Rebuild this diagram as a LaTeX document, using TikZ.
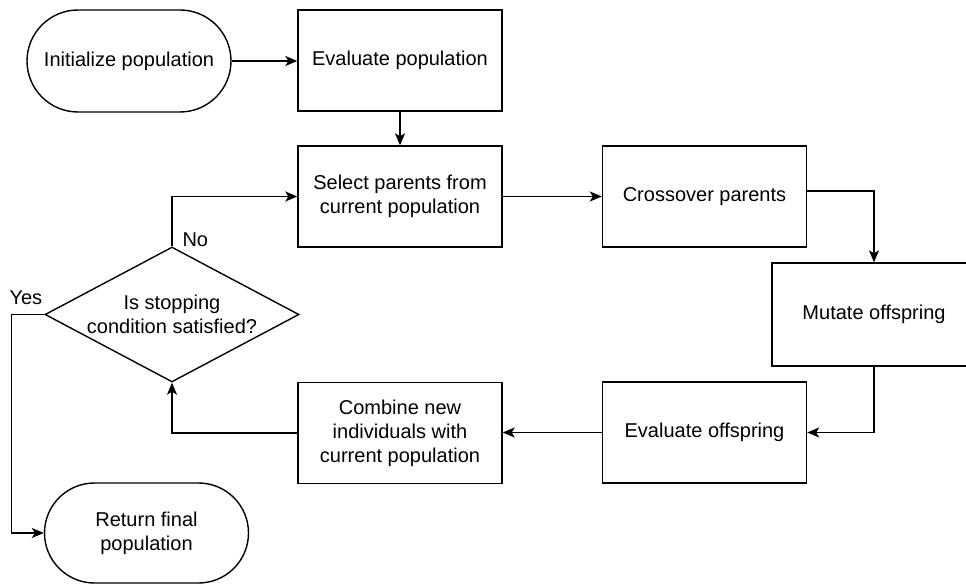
\documentclass[tikz,border=0pt]{standalone}
\usepackage{fontspec}
\setmainfont{Liberation Sans}
\usetikzlibrary{shapes.geometric,shapes.misc,arrows.meta}

\begin{document}
\begin{tikzpicture}[x = 1pt, y = -1pt,
	every node/.style = {font = \fontsize{20}{24}\selectfont},
	box/.style = {draw, line width = 1.4pt, rectangle, minimum width = 204pt, minimum height = 101pt, align = center, inner sep = 0pt},
	term/.style = {draw, line width = 1.4pt, rounded rectangle, minimum width = 204pt, minimum height = 102pt, align = center, inner sep = 0pt},
	decide/.style = {draw, line width = 1.4pt, diamond, aspect = 1.88, minimum width = 254pt, minimum height = 135pt, align = center, inner sep = 0pt},
	flow/.style = {line width = 1.4pt, -{Stealth[length = 12pt, width = 10pt, inset = 3pt]}}]
						\useasboundingbox (0,0) rectangle (966,585);
						\node[term] (init) at (129,61) {Initialize population};
						\node[box] (evalpop) at (400,60.5) {Evaluate population};
						\node[box] (select) at (400,196.5) {Select parents from\\current population};
						\node[box] (cross) at (704.5,196.5) {Crossover parents};
						\node[box, minimum height = 103pt] (mutate) at (874,314.5) {Mutate offspring};
						\node[box] (evaloff) at (704.5,432.5) {Evaluate offspring};
						\node[box] (combine) at (400,433) {Combine new\\individuals with\\current population};
						\node[decide] (stop) at (172,314.5) {Is stopping\\condition satisfied?};
						\node[term, minimum height = 100pt] (final) at (146.5,533) {Return final\\population};
						\node[right] (nolbl) at (179,240) {No};
						\node[right] (yeslbl) at (6,298) {Yes};
						\draw[flow] (init.east) -- (init.east -| evalpop.west);
						\draw[flow] (evalpop) -- (select);
						\draw[flow] (select) -- (cross);
						\draw[flow] ([yshift = 5.5pt]cross.east) -| (mutate.north);
						\draw[flow] (mutate.south) |- (evaloff.east);
						\draw[flow] (evaloff.west) -- (evaloff.west -| combine.east);
						\draw[flow] (combine.west) -| (stop.south);
						\draw[flow] (stop.north) |- (select.west);
						\draw[flow] (stop.west) -- ++(-33,0) |- (final.west);
					\end{tikzpicture}
\end{document}
